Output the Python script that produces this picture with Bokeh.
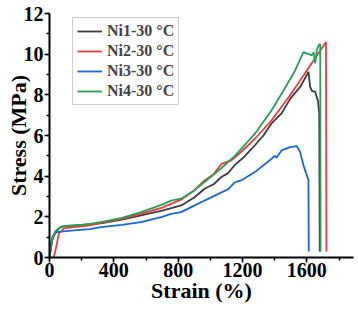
from bokeh.plotting import figure
from bokeh.models import Range1d, SingleIntervalTicker, Legend, LegendItem
from bokeh.embed import file_html
from bokeh.resources import INLINE

# ---- data ----
ni1_strain = [0, 6, 17, 37, 69, 100, 152, 250, 319, 450, 569, 700, 819, 900, 964, 1020, 1069, 1110, 1152, 1210, 1277, 1330, 1381, 1444, 1496, 1560, 1610, 1620, 1631, 1652, 1669, 1677, 1680]
ni1_stress = [0.0, 0.3, 0.84, 1.25, 1.5, 1.55, 1.58, 1.63, 1.68, 1.86, 2.07, 2.3, 2.56, 2.95, 3.38, 3.6, 3.96, 4.15, 4.55, 4.95, 5.52, 6.0, 6.6, 7.1, 7.8, 8.4, 9.13, 8.4, 8.2, 8.15, 7.7, 7.1, 0.3]

ni2_strain = [25, 37, 58, 90, 152, 250, 319, 450, 569, 700, 819, 900, 964, 1020, 1069, 1131, 1200, 1277, 1381, 1496, 1600, 1719, 1722]
ni2_stress = [0.0, 0.34, 1.17, 1.43, 1.5, 1.58, 1.7, 1.9, 2.15, 2.45, 2.85, 3.3, 3.79, 4.1, 4.6, 4.78, 5.25, 5.84, 6.75, 7.98, 9.2, 10.6, 0.3]

ni3_strain = [0, 8, 17, 30, 48, 100, 152, 250, 319, 450, 569, 700, 756, 819, 900, 964, 1069, 1110, 1152, 1194, 1277, 1381, 1402, 1410, 1444, 1496, 1537, 1558, 1579, 1600, 1610, 1612]
ni3_stress = [0.0, 0.5, 1.0, 1.15, 1.25, 1.3, 1.33, 1.4, 1.49, 1.6, 1.74, 2.0, 2.15, 2.23, 2.55, 2.8, 3.2, 3.35, 3.7, 3.8, 4.2, 4.86, 5.0, 4.9, 5.27, 5.43, 5.48, 5.19, 4.53, 4.04, 3.8, 0.3]

ni4_strain = [0, 6, 17, 37, 69, 100, 152, 250, 319, 450, 569, 700, 756, 819, 900, 964, 1069, 1152, 1210, 1277, 1381, 1454, 1527, 1579, 1610, 1631, 1642, 1652, 1662, 1673, 1683, 1685]
ni4_stress = [0.0, 0.4, 0.9, 1.3, 1.5, 1.55, 1.57, 1.65, 1.74, 1.95, 2.23, 2.6, 2.8, 2.89, 3.3, 3.71, 4.4, 5.0, 5.5, 6.09, 7.24, 8.2, 9.2, 10.1, 10.0, 9.95, 10.1, 9.55, 10.2, 10.44, 10.5, 0.3]

labels = ["Ni1-30 \u00b0C", "Ni2-30 \u00b0C", "Ni3-30 \u00b0C", "Ni4-30 \u00b0C"]
colors = ["#3c3c3c", "#ee3b3b", "#1a66d6", "#25a155"]
x_title = "Strain (%)"
y_title = "Stress (MPa)"

FONT = "Liberation Serif"
W, H = 358, 313
LEFT, TOP, BOTTOM, RIGHT = 49, 13, 56, 5
FRAME_H = H - TOP - BOTTOM

p = figure(width=W, height=H, output_backend="svg", toolbar_location=None,
           x_range=Range1d(0, 1890), y_range=Range1d(0, 12),
           min_border_left=LEFT, min_border_right=RIGHT, min_border_top=TOP,
           min_border_bottom=BOTTOM)

renderers = []
for xs, ys, c in zip([ni1_strain, ni2_strain, ni3_strain, ni4_strain],
                     [ni1_stress, ni2_stress, ni3_stress, ni4_stress], colors):
    r = p.line(xs, ys, line_color=c, line_width=1.8)
    renderers.append(r)

p.xgrid.visible = False
p.ygrid.visible = False
p.outline_line_color = None
p.background_fill_color = "white"
p.border_fill_color = "white"

p.xaxis.ticker = SingleIntervalTicker(interval=400, num_minor_ticks=2)
p.yaxis.ticker = SingleIntervalTicker(interval=2, num_minor_ticks=2)

for ax in (p.xaxis[0], p.yaxis[0]):
    ax.axis_line_width = 2
    ax.axis_line_color = "black"
    ax.major_tick_line_width = 1.5
    ax.minor_tick_line_width = 1.5
    ax.major_tick_in = 0
    ax.major_tick_out = 5
    ax.minor_tick_in = 0
    ax.minor_tick_out = 3
    ax.major_label_text_font = FONT
    ax.major_label_text_font_style = "bold"
    ax.major_label_text_font_size = "20px"
    ax.major_label_text_color = "black"
    ax.axis_label_text_font = FONT
    ax.axis_label_text_font_style = "bold"
    ax.axis_label_text_font_size = "22px"
    ax.axis_label_text_color = "black"

p.xaxis.axis_label = x_title
p.yaxis.axis_label = y_title
p.xaxis.major_label_standoff = 0
p.xaxis.axis_label_standoff = -2
p.yaxis.major_label_standoff = 1
p.yaxis.axis_label_standoff = -10

legend = Legend(items=[LegendItem(label=l, renderers=[r]) for l, r in zip(labels, renderers)],
                location=(23, FRAME_H - 6 - 86))
legend.label_text_font = FONT
legend.label_text_font_style = "bold"
legend.label_text_font_size = "16px"
legend.glyph_width = 25
legend.glyph_height = 18
legend.label_height = 18
legend.spacing = 2
legend.padding = 4
legend.label_standoff = 5
legend.border_line_color = "#999999"
legend.border_line_width = 1
legend.background_fill_alpha = 1
p.add_layout(legend, "center")

open("out.html", "w").write(file_html(p, INLINE))
